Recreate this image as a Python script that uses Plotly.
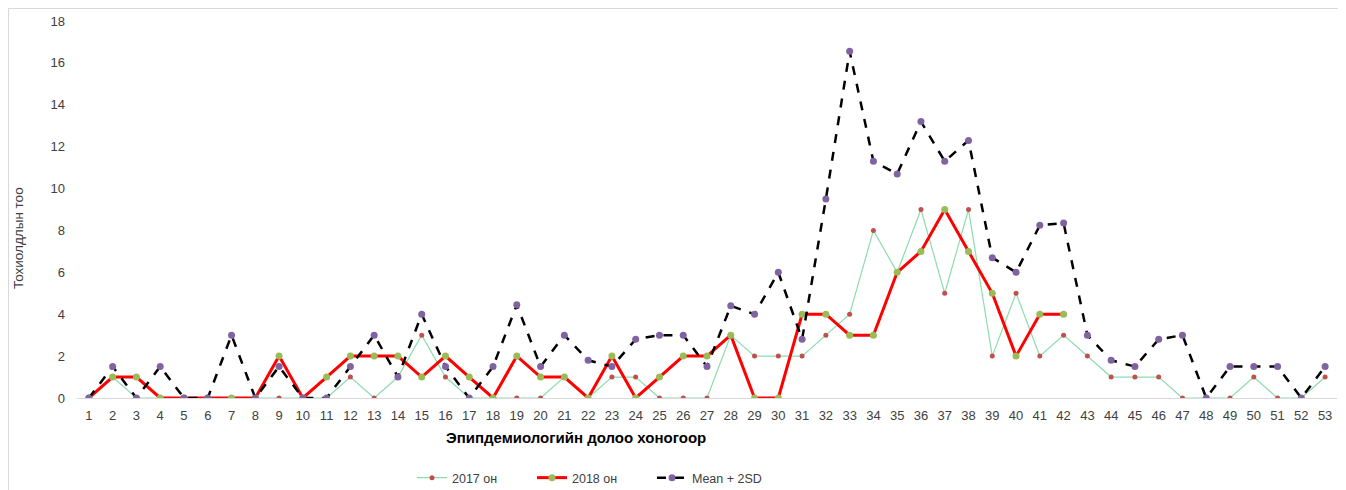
import plotly.graph_objects as go

weeks = [str(i) for i in range(1, 54)]

y2017 = [0, 1, 0, 0, 0, 0, 0, 0, 0, 0,
         0, 1, 0, 1, 3, 1, 0, 0, 0, 0,
         1, 0, 1, 1, 0, 0, 0, 3, 2, 2,
         2, 3, 4, 8, 6, 9, 5, 9, 2, 5,
         2, 3, 2, 1, 1, 1, 0, 0, 0, 1,
         0, 0, 1]

y2018 = [0, 1, 1, 0, 0, 0, 0, 0, 2, 0,
         1, 2, 2, 2, 1, 2, 1, 0, 2, 1,
         1, 0, 2, 0, 1, 2, 2, 3, 0, 0,
         4, 4, 3, 3, 6, 7, 9, 7, 5, 2,
         4, 4]

mean2sd = [0, 1.5, 0, 1.5, 0, 0, 3, 0, 1.5, 0,
           0, 1.5, 3, 1, 4, 1.5, 0, 1.5, 4.45, 1.5,
           3, 1.8, 1.5, 2.8, 3, 3, 1.5, 4.4, 4, 6,
           2.8, 9.5, 16.55, 11.3, 10.7, 13.2, 11.3, 12.3, 6.7, 6,
           8.25, 8.35, 3, 1.8, 1.5, 2.8, 3, 0, 1.5, 1.5,
           1.5, 0, 1.5]

series_names = ["2017 он", "2018 он", "Mean + 2SD"]
x_title = "Эпипдемиологийн долоо хоногоор"
y_title = "Тохиолдлын тоо"
y_ticks = list(range(0, 19, 2))

FONT = "Liberation Sans"

fig = go.Figure()
fig.add_trace(go.Scatter(
    x=weeks, y=y2017, name=series_names[0], mode="lines+markers",
    line=dict(color="#8ddcae", width=1.2),
    marker=dict(color="#c0504d", size=5),
))
fig.add_trace(go.Scatter(
    x=weeks[:len(y2018)], y=y2018, name=series_names[1], mode="lines+markers",
    line=dict(color="#ff0000", width=3),
    marker=dict(color="#9bbb59", size=7),
))
fig.add_trace(go.Scatter(
    x=weeks, y=mean2sd, name=series_names[2], mode="lines+markers",
    line=dict(color="#000000", width=2.5, dash="dash"),
    marker=dict(color="#8064a2", size=7),
))

# page body has an 8px default margin; figure coordinates below compensate
OFF = 8
W, H = 1346 - OFF, 490 - OFF
L, T = 77 - OFF, 21 - OFF
R = W - (1337 - OFF)
B = H - (398 - OFF)
pw = W - L - R
ph = H - T - B


def px(xs):
    return (xs - OFF - L) / pw


def py(ys):
    return (H - B - (ys - OFF)) / ph


fig.update_layout(
    width=W, height=H,
    margin=dict(l=L, r=R, t=T, b=B, autoexpand=False),
    paper_bgcolor="white", plot_bgcolor="white",
    font=dict(family=FONT, size=13, color="#404040"),
    showlegend=True,
    legend=dict(orientation="h", x=px(412), xanchor="left",
                y=py(478), yanchor="middle",
                entrywidth=75, entrywidthmode="pixels",
                font=dict(size=12.5, color="#404040")),
    xaxis=dict(type="category", range=[-0.5, 52.5], showgrid=False,
               showline=True, linecolor="#d9d9d9", linewidth=1,
               ticks="", zeroline=False, automargin=False,
               ticklabelstandoff=5,
               tickfont=dict(size=13, color="#404040")),
    yaxis=dict(range=[0, 18], tickvals=y_ticks, showgrid=False,
               zeroline=False, showline=False, ticks="", automargin=False,
               ticklabelstandoff=11,
               tickfont=dict(size=13, color="#404040")),
    annotations=[
        dict(text="<b>" + x_title + "</b>", xref="paper", yref="paper",
             x=px(576), y=py(438), xanchor="center", yanchor="middle",
             showarrow=False, font=dict(size=15, color="#000000")),
        dict(text=y_title, xref="paper", yref="paper", textangle=-90,
             x=px(18), y=py(238), xanchor="center", yanchor="middle",
             showarrow=False, font=dict(size=13.5, color="#404040")),
    ],
    shapes=[dict(type="rect", xref="paper", yref="paper",
                 x0=px(8.5), x1=px(1340.5),
                 y0=py(500), y1=py(8.5),
                 line=dict(color="#d9d9d9", width=1), fillcolor="rgba(0,0,0,0)",
                 layer="below")],
)

fig.write_html("out.html")
